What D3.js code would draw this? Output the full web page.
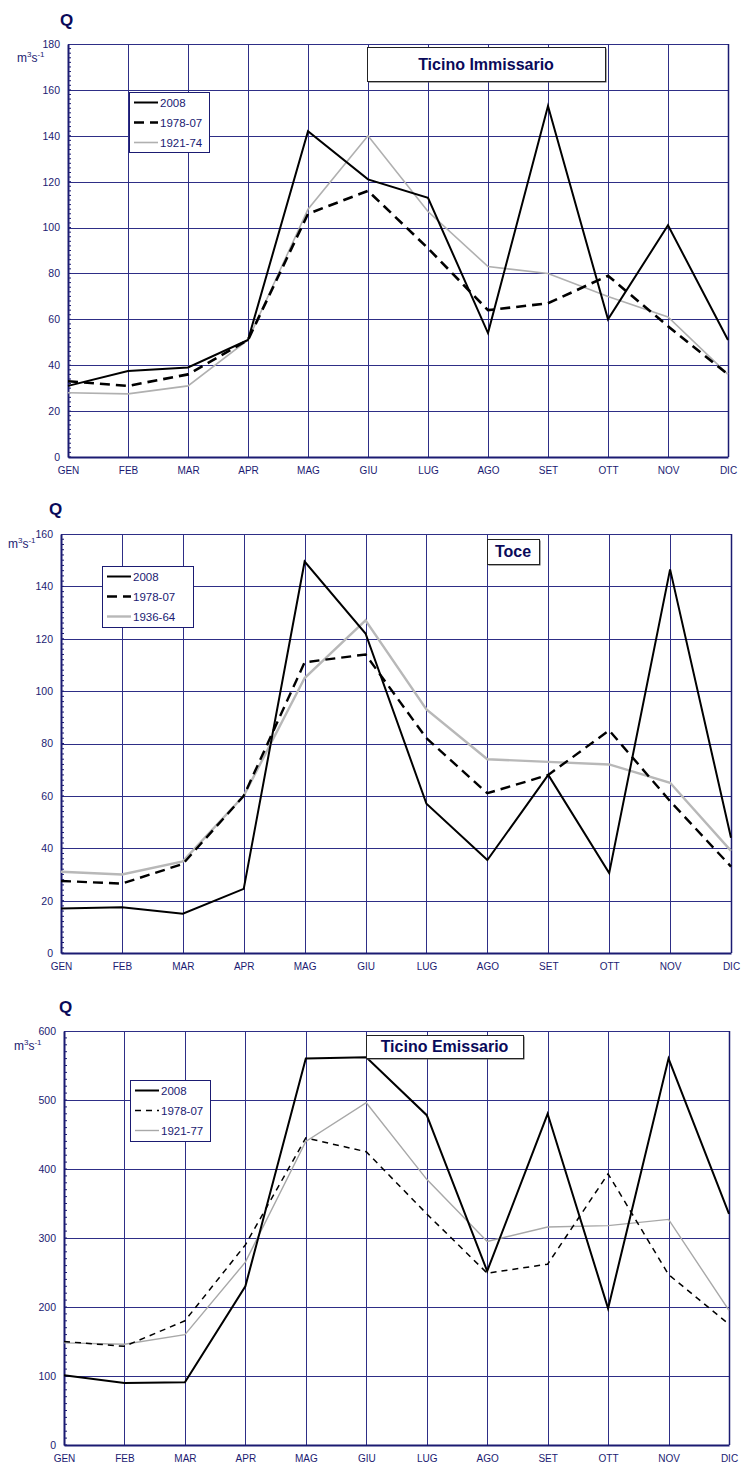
<!DOCTYPE html>
<html>
<head>
<meta charset="utf-8">
<script src="https://cdn.jsdelivr.net/npm/d3@7"></script>
<style>
  body { margin: 0; background: #fff; }
  svg text { font-family: "Liberation Sans", Arial, sans-serif; }
</style>
</head>
<body>
<div id="chart"></div>
<script>
// month labels shared by the three panels
const months = ["GEN", "FEB", "MAR", "APR", "MAG", "GIU", "LUG", "AGO", "SET", "OTT", "NOV", "DIC"];

// Ticino Immissario
const ticinoImm2008 = [31, 37.5, 39, 51, 142, 121, 113, 54, 153, 60, 101, 51];
const ticinoImm7807 = [33, 31, 36, 51, 106, 116, 91, 64, 67, 79, 57, 36];
const ticinoImm2174 = [28, 27.5, 31, 51, 108, 140, 107, 83, 80, 70, 61, 36];
const ticinoImmTicks = [0, 20, 40, 60, 80, 100, 120, 140, 160, 180];

// Toce
const toce2008 = [17, 17.5, 15, 24.5, 149.5, 122, 57, 35.5, 68, 30.5, 146.5, 44];
const toce7807 = [27.5, 26.5, 34, 60, 111, 114, 82, 61, 68, 85, 58, 33];
const toce3664 = [31, 30, 35, 60, 105, 127, 93, 74, 73, 72, 65, 39];
const toceTicks = [0, 20, 40, 60, 80, 100, 120, 140, 160];

// Ticino Emissario
const ticinoEm2008 = [101, 90, 91, 230, 560, 562, 478, 252, 480, 198, 560, 335];
const ticinoEm7807 = [150, 143, 180, 290, 445, 425, 335, 249, 262, 393, 247, 175];
const ticinoEm2177 = [148, 146, 160, 265, 440, 496, 385, 295, 316, 318, 327, 195];
const ticinoEmTicks = [0, 100, 200, 300, 400, 500, 600];

const navy = "#1b1b72";
const grid = "#2e2e86";

var svg = d3.select("#chart").append("svg")
  .attr("width", 741)
  .attr("height", 1470);

// styles for the three series of each panel
var style2008 = { color: "#000", width: 2, dash: null };

drawPanel({
  left: 68, right: 728, top: 44, bottom: 457,
  max: 180, ticks: ticinoImmTicks, minor: 2,
  title: "Ticino Immissario", titleBox: [367, 47, 238, 34], titleSize: 16,
  q: [60, 26], unit: [17, 62],
  legend: [129, 92, 80, 60],
  series: [
    { name: "2008", values: ticinoImm2008, style: style2008 },
    { name: "1978-07", values: ticinoImm7807, style: { color: "#000", width: 2.6, dash: "10,6" } },
    { name: "1921-74", values: ticinoImm2174, style: { color: "#b0b0b0", width: 1.6, dash: null } }
  ]
});

drawPanel({
  left: 61, right: 731, top: 534, bottom: 953,
  max: 160, ticks: toceTicks, minor: 2,
  title: "Toce", titleBox: [487, 539, 52, 25], titleSize: 16,
  q: [49, 515], unit: [8, 548],
  legend: [102, 566, 91, 61],
  series: [
    { name: "2008", values: toce2008, style: style2008 },
    { name: "1978-07", values: toce7807, style: { color: "#000", width: 2.4, dash: "10,6" } },
    { name: "1936-64", values: toce3664, style: { color: "#b8b8b8", width: 2.4, dash: null } }
  ]
});

drawPanel({
  left: 64, right: 729, top: 1031, bottom: 1445,
  max: 600, ticks: ticinoEmTicks, minor: 10,
  title: "Ticino Emissario", titleBox: [366, 1035, 157, 23], titleSize: 16,
  q: [59, 1013], unit: [14, 1050],
  legend: [130, 1080, 80, 61],
  series: [
    { name: "2008", values: ticinoEm2008, style: style2008 },
    { name: "1978-07", values: ticinoEm7807, style: { color: "#000", width: 1.5, dash: "6,5" } },
    { name: "1921-77", values: ticinoEm2177, style: { color: "#a8a8a8", width: 1.4, dash: null } }
  ]
});

function drawPanel(cfg) {
  var x = d3.scalePoint().domain(months).range([cfg.left, cfg.right]);
  var y = d3.scaleLinear().domain([0, cfg.max]).range([cfg.bottom, cfg.top]);
  var g = svg.append("g");

  // horizontal grid
  g.append("g").selectAll("line")
    .data(cfg.ticks.slice(1))
    .enter().append("line")
    .attr("x1", cfg.left).attr("x2", cfg.right)
    .attr("y1", function(d) { return Math.round(y(d)) + 0.5; })
    .attr("y2", function(d) { return Math.round(y(d)) + 0.5; })
    .attr("stroke", grid).attr("stroke-width", 1);

  // vertical grid
  g.append("g").selectAll("line")
    .data(months.slice(1))
    .enter().append("line")
    .attr("x1", function(d) { return Math.round(x(d)) + 0.5; })
    .attr("x2", function(d) { return Math.round(x(d)) + 0.5; })
    .attr("y1", cfg.top).attr("y2", cfg.bottom)
    .attr("stroke", grid).attr("stroke-width", 1);

  // right border
  g.append("line")
    .attr("x1", cfg.right + 0.5).attr("x2", cfg.right + 0.5)
    .attr("y1", cfg.top).attr("y2", cfg.bottom)
    .attr("stroke", navy).attr("stroke-width", 1.5);

  // y axis with minor ticks inside
  var yAxis = d3.axisLeft(y).tickValues(cfg.ticks).tickSize(0).tickPadding(8);
  var ya = g.append("g").attr("transform", "translate(" + cfg.left + ",0)").call(yAxis);
  ya.select(".domain").attr("stroke", navy).attr("stroke-width", 2);
  ya.selectAll("text").attr("fill", navy).style("font-size", "10.5px");

  var minorTicks = d3.range(0, cfg.max, cfg.minor);
  g.append("g").selectAll("line")
    .data(minorTicks)
    .enter().append("line")
    .attr("x1", cfg.left).attr("x2", cfg.left + 3)
    .attr("y1", function(d) { return y(d); })
    .attr("y2", function(d) { return y(d); })
    .attr("stroke", navy).attr("stroke-width", 1);

  // x axis
  var xAxis = d3.axisBottom(x).tickSize(0).tickPadding(10);
  var xa = g.append("g").attr("transform", "translate(0," + cfg.bottom + ")").call(xAxis);
  xa.select(".domain").attr("stroke", navy).attr("stroke-width", 2);
  xa.selectAll("text").attr("fill", navy).style("font-size", "10px");

  // "Q" and unit labels
  g.append("text")
    .attr("x", cfg.q[0]).attr("y", cfg.q[1])
    .attr("fill", "#0a0a5a")
    .style("font-size", "17px").style("font-weight", "bold")
    .text("Q");

  var unit = g.append("text")
    .attr("x", cfg.unit[0]).attr("y", cfg.unit[1])
    .attr("fill", navy).style("font-size", "12px");
  unit.append("tspan").text("m");
  unit.append("tspan").attr("dy", -5).style("font-size", "8px").text("3");
  unit.append("tspan").attr("dy", 5).text("s");
  unit.append("tspan").attr("dy", -5).style("font-size", "8px").text("-1");

  // series lines
  var lineGen = d3.line()
    .x(function(d, i) { return x(months[i]); })
    .y(function(d) { return y(d); });

  cfg.series.slice().reverse().forEach(function(s) {
    g.append("path")
      .datum(s.values)
      .attr("d", lineGen)
      .attr("fill", "none")
      .attr("stroke", s.style.color)
      .attr("stroke-width", s.style.width)
      .attr("stroke-dasharray", s.style.dash)
      .attr("stroke-linejoin", "miter");
  });

  // title box
  var tb = cfg.titleBox;
  g.append("rect")
    .attr("x", tb[0] + 1.5).attr("y", tb[1] + 1.5)
    .attr("width", tb[2]).attr("height", tb[3])
    .attr("fill", "#555");
  g.append("rect")
    .attr("x", tb[0] + 0.5).attr("y", tb[1] + 0.5)
    .attr("width", tb[2]).attr("height", tb[3])
    .attr("fill", "#fff").attr("stroke", "#222").attr("stroke-width", 1);
  g.append("text")
    .attr("x", tb[0] + tb[2] / 2).attr("y", tb[1] + tb[3] / 2 + 5.5)
    .attr("text-anchor", "middle")
    .attr("fill", "#0a0a5a")
    .style("font-size", cfg.titleSize + "px").style("font-weight", "bold")
    .text(cfg.title);

  // legend
  var lg = cfg.legend;
  var leg = g.append("g");
  leg.append("rect")
    .attr("x", lg[0] + 0.5).attr("y", lg[1] + 0.5)
    .attr("width", lg[2]).attr("height", lg[3])
    .attr("fill", "#fff").attr("stroke", navy).attr("stroke-width", 1);
  cfg.series.forEach(function(s, i) {
    var ly = lg[1] + 10.5 + i * 20;
    leg.append("line")
      .attr("x1", lg[0] + 5).attr("x2", lg[0] + 29)
      .attr("y1", ly).attr("y2", ly)
      .attr("stroke", s.style.color)
      .attr("stroke-width", s.style.width)
      .attr("stroke-dasharray", s.style.dash);
    leg.append("text")
      .attr("x", lg[0] + 31).attr("y", ly + 4)
      .attr("fill", navy).style("font-size", "11.5px")
      .text(s.name);
  });
}
</script>
</body>
</html>
